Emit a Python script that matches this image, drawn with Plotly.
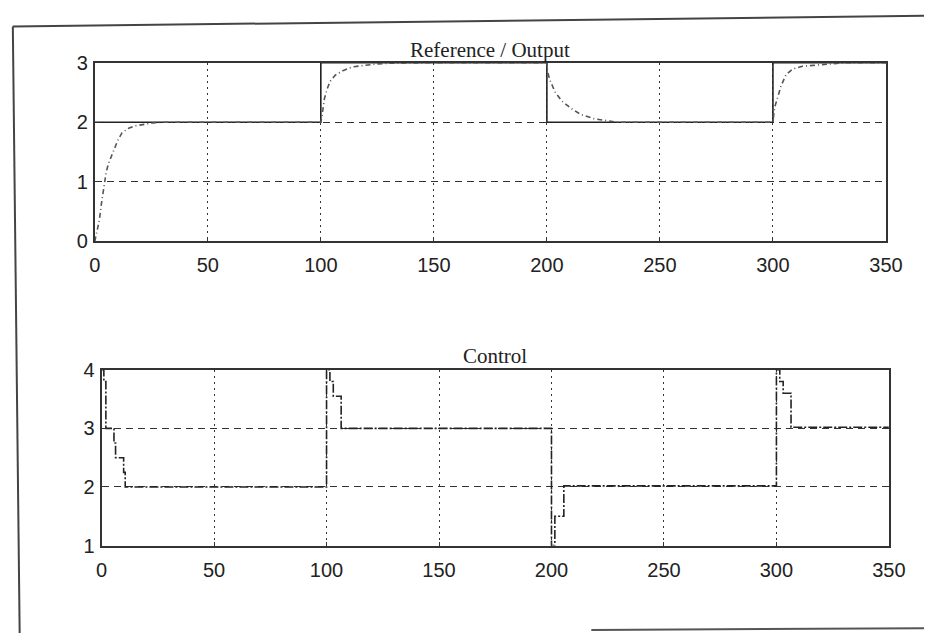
import plotly.graph_objects as go

# ---- data ----
t_ref = [0, 100, 100, 200, 200, 300, 300, 350]
ref = [2, 2, 3, 3, 2, 2, 3, 3]

t_out = [0, 1, 2, 3, 4, 5, 6, 8, 10, 12, 15, 18, 22, 26, 30, 40, 60, 80, 100,
         100.6, 101.6, 103, 104.2, 106.4, 110, 114, 120, 125, 130, 150, 180, 200,
         200.2, 201.2, 203.6, 206.5, 210.8, 215, 220.8, 225, 231, 250, 280, 300,
         300.7, 302.2, 303.6, 305.8, 308.6, 313, 318.7, 326, 332, 350]
y_out = [0, 0.15, 0.35, 0.65, 0.95, 1.15, 1.3, 1.5, 1.68, 1.82, 1.9, 1.94, 1.97, 1.99, 2.0, 2.0, 2.0, 2.0, 2.0,
         2.13, 2.4, 2.58, 2.69, 2.79, 2.87, 2.93, 2.96, 2.98, 2.99, 3.0, 3.0, 3.0,
         2.87, 2.72, 2.51, 2.36, 2.23, 2.13, 2.06, 2.03, 2.0, 2.0, 2.0, 2.0,
         2.24, 2.45, 2.61, 2.8, 2.89, 2.94, 2.96, 2.98, 3.0, 3.0]

t_ctl = [0, 1, 1.9, 5.5, 6.2, 9.8, 10.5, 100, 101.5, 103, 106.5, 200, 201.5, 205.5,
         300, 301.5, 303, 306.5, 350]
u_ctl = [4.0, 3.8, 3.0, 2.75, 2.5, 2.25, 2.0, 4.0, 3.8, 3.55, 3.0, 1.0, 1.5, 2.02,
         4.0, 3.8, 3.6, 3.02, 3.02]

x_ticks = [0, 50, 100, 150, 200, 250, 300, 350]
y_ticks_top = [0, 1, 2, 3]
y_ticks_bot = [1, 2, 3, 4]

title_top = "Reference / Output"
title_bot = "Control"

W, H = 941, 644
def px(x):
    return x / W
def py(y):
    return 1 - y / H

fig = go.Figure()
fig.add_trace(go.Scatter(x=t_ref, y=ref, mode="lines", xaxis="x", yaxis="y",
                         line=dict(color="#222", width=1.6), showlegend=False))
fig.add_trace(go.Scatter(x=t_out, y=y_out, mode="lines", xaxis="x", yaxis="y",
                         line=dict(color="#555", width=1.6, dash="5px,3px,1px,3px"),
                         showlegend=False))
fig.add_trace(go.Scatter(x=t_ctl, y=u_ctl, mode="lines", xaxis="x2", yaxis="y2",
                         line=dict(color="#222", width=1.6, shape="hv", dash="9px,2px,2px,2px"),
                         showlegend=False))

tickfont = dict(family="Liberation Sans, Arial, sans-serif", size=20, color="#222")
common_x = dict(range=[0, 350], tickvals=x_ticks, ticktext=[str(v) for v in x_ticks],
                showline=True, mirror=True, linecolor="#333", linewidth=2,
                ticks="inside", ticklen=4, tickcolor="#333",
                showgrid=True, gridcolor="#333", gridwidth=1.3, griddash="2px,4px",
                zeroline=False, tickfont=tickfont, ticklabelstandoff=5)
common_y = dict(showline=True, mirror=True, linecolor="#333", linewidth=2,
                ticks="inside", ticklen=4, tickcolor="#333",
                showgrid=True, gridcolor="#333", gridwidth=1.2, griddash="7px,5px",
                zeroline=False, tickfont=tickfont, ticklabelstandoff=1)

fig.update_layout(
    width=W, height=H, margin=dict(l=0, r=0, t=0, b=0),
    paper_bgcolor="white", plot_bgcolor="white",
    xaxis=dict(domain=[px(91), px(902)], anchor="y", **common_x),
    yaxis=dict(domain=[py(238.5), py(53.5)], anchor="x", range=[0, 3],
               tickvals=y_ticks_top, ticktext=[str(v) for v in y_ticks_top], **common_y),
    xaxis2=dict(domain=[px(98), px(905)], anchor="y2", **common_x),
    yaxis2=dict(domain=[py(553.5), py(371.5)], anchor="x2", range=[1, 4],
                tickvals=y_ticks_bot, ticktext=[str(v) for v in y_ticks_bot], **common_y),
    annotations=[
        dict(text=title_top, xref="paper", yref="paper", x=px(496), y=py(40),
             xanchor="center", yanchor="middle", showarrow=False,
             font=dict(family="Liberation Serif, Times New Roman, serif", size=21, color="#222")),
        dict(text=title_bot, xref="paper", yref="paper", x=px(501), y=py(357),
             xanchor="center", yanchor="middle", showarrow=False,
             font=dict(family="Liberation Serif, Times New Roman, serif", size=21, color="#222")),
    ],
    shapes=[
        dict(type="line", xref="paper", yref="paper", x0=px(7), y0=py(16), x1=px(941), y1=py(5),
             line=dict(color="#444", width=2)),
        dict(type="line", xref="paper", yref="paper", x0=px(7), y0=py(16), x1=px(14), y1=py(644),
             line=dict(color="#444", width=2)),
        dict(type="line", xref="paper", yref="paper", x0=px(600), y0=py(641), x1=px(941), y1=py(639),
             line=dict(color="#555", width=2)),
    ],
)

fig.write_html("out.html", config={"displayModeBar": False},
               post_script="document.body.style.margin='0px';document.body.style.overflow='hidden';")
